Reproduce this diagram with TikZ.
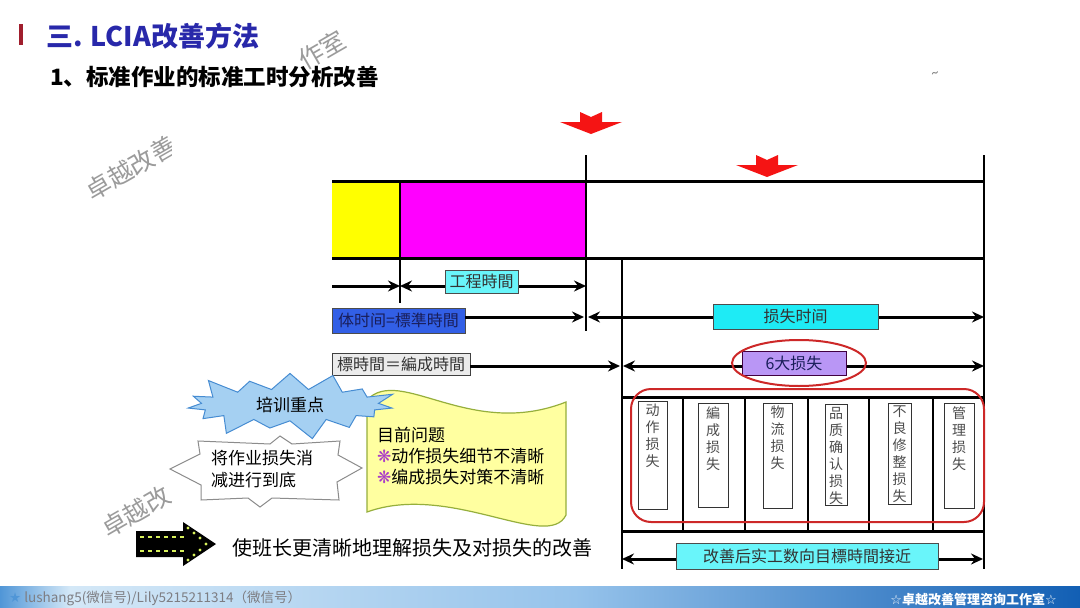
\documentclass[tikz,border=0pt]{standalone}
\usepackage{fontspec}
\setmainfont{Noto Sans CJK SC}
\newfontfamily\symfont{DejaVu Sans}
\usetikzlibrary{arrows.meta,shapes.symbols,shapes.geometric}
\definecolor{titleblue}{RGB}{40,40,170}
\definecolor{barred}{RGB}{160,30,45}
\definecolor{markred}{RGB}{245,20,20}
\definecolor{baryellow}{RGB}{255,255,0}
\definecolor{barmagenta}{RGB}{255,0,255}
\definecolor{lblcyan}{RGB}{30,235,245}
\definecolor{lblcyanlt}{RGB}{105,245,250}
\definecolor{qtblue}{RGB}{50,95,230}
\definecolor{navytext}{RGB}{25,30,90}
\definecolor{lossviolet}{RGB}{185,150,245}
\definecolor{ringred}{RGB}{205,40,40}
\definecolor{starblue}{RGB}{165,208,242}
\definecolor{starline}{RGB}{70,140,210}
\definecolor{flagyellow}{RGB}{255,255,160}
\definecolor{flagline}{RGB}{150,175,60}
\definecolor{bulletpurple}{RGB}{170,60,200}
\definecolor{wmgray}{RGB}{155,155,155}
\definecolor{footgray}{RGB}{125,125,130}
\definecolor{footA}{RGB}{80,150,215}
\definecolor{footB}{RGB}{212,232,247}
\definecolor{footC}{RGB}{150,195,235}
\definecolor{footD}{RGB}{18,95,180}
\definecolor{lampgreen}{RGB}{215,240,90}
\tikzset{
	>={Stealth[length=12pt,width=11pt,inset=4pt]},
	dimline/.style={line width=3pt,black},
	guide/.style={line width=1.3pt,black},
	lbl/.style={draw=black!70,line width=0.8pt,inner sep=0pt,text=black!80,
		font=\fontsize{16}{18}\selectfont},
	losscol/.style={draw=black!80,line width=0.8pt,fill=white,inner sep=0pt,anchor=north},
	coltext/.style={align=center,inner sep=0pt,anchor=north,text=black!70,
		font=\fontsize{14}{17}\selectfont},
	wmark/.style={rotate=30,text=wmgray,inner sep=0pt,font=\fontsize{25}{27}\selectfont},
	redmark/.pic={\fill[markred] (-11,0) -- (0,5) -- (11,0) -- (11,10) -- (31,10)
		-- (0,22) -- (-31,10) -- (-11,10) -- cycle;}
}
\begin{document}
\begin{tikzpicture}[x=1pt,y=-1pt]
\useasboundingbox (0,0) rectangle (1080,608);
\fill[white] (0,0) rectangle (1080,608);

% footer
\shade[left color=footA,right color=footB] (0,586) rectangle (70,608);
\shade[left color=footB,right color=footD,middle color=footC] (70,586) rectangle (1080,608);
\node[anchor=west,inner sep=0pt,text=footgray,font=\fontsize{13.5}{15}\selectfont] (footl) at (9,598)
	{{\symfont\color{footA}★} lushang5(微信号)/Lily5215211314（微信号）};
\node[anchor=east,inner sep=0pt,text=white,font=\bfseries\fontsize{13}{15}\selectfont] (footr) at (1057,599)
	{{\symfont ☆}卓越改善管理咨询工作室{\symfont ☆}};

% title
\fill[barred] (19,24) rectangle (23,45);
\node[anchor=west,inner sep=0pt,text=titleblue,font=\bfseries\fontsize{27}{30}\selectfont] (ttl) at (46,36) {三. LCIA改善方法};
\node[anchor=west,inner sep=0pt,font=\bfseries\fontsize{22.5}{25}\selectfont] (sub) at (50,77) {1、标准作业的标准工时分析改善};

% watermarks
\begin{scope}
\clip (0,100) rectangle (171,240);
\node[wmark] (wm1) at (131,168) {卓越改善};
\end{scope}
\node[wmark] (wm2) at (136,512) {卓越改};
\node[wmark] (wm3) at (322,50) {作室};
\node[inner sep=0pt,text=black!55,rotate=20,font=\fontsize{14}{14}\selectfont] (wm4) at (936,75) {\~{}};

% time bar
\fill[baryellow] (332,181) rectangle (400,258);
\fill[barmagenta] (400,181) rectangle (586,258);
\draw[line width=3pt] (332,181) -- (984,181);
\draw[line width=3pt] (332,258) -- (984,258);
\draw[guide] (400,181) -- (400,303);
\draw[guide] (586,155) -- (586,331);
\draw[guide] (984,155) -- (984,397);
\draw[guide] (622,258) -- (622,397);

% red markers
\pic at (591,112) {redmark};
\pic at (767,155) {redmark};

% row 1
\coordinate (r1a) at (332,286);
\coordinate (r1b) at (400,286);
\coordinate (r1c) at (586,286);
\draw[dimline,->] (r1a) -- (r1b);
\draw[dimline,<->] (r1b) -- (r1c);
\node[lbl,fill=lblcyanlt,minimum width=73pt,minimum height=23pt] (gcsj) at (481.5,281.5) {工程時間};

% row 2
\node[lbl,fill=qtblue,text=navytext,minimum width=133pt,minimum height=25pt] (qt) at (398.5,320.5) {体时间=標準時間};
\coordinate (r2a) at (584,317);
\coordinate (r2b) at (588,317);
\coordinate (r2c) at (984,317);
\draw[dimline,->] (qt.east |- r2a) -- (r2a);
\draw[dimline,<->] (r2b) -- (r2c);
\node[lbl,fill=lblcyan,minimum width=165pt,minimum height=25pt] (sssj) at (795.5,316.5) {损失时间};

% row 3
\node[lbl,fill=black!8,draw=black!75,minimum width=138pt,minimum height=22pt] (bz) at (401,364) {標時間＝編成時間};
\coordinate (r3a) at (620,366);
\coordinate (r3b) at (623,366);
\coordinate (r3c) at (984,366);
\draw[dimline,->] (bz.east |- r3a) -- (r3a);
\draw[dimline,<->] (r3b) -- (r3c);
\node[lbl,fill=lossviolet,draw=violet!50!black,text=navytext,minimum width=104pt,minimum height=24pt] (six) at (794,363) {6大损失};
\node[ellipse,draw=ringred,line width=2pt,minimum width=134pt,minimum height=46pt] (ring) at (799,363) {};

% loss table
\draw[line width=3pt] (622,397) -- (984,397);
\draw[line width=3pt] (622,531) -- (984,531);
\draw[line width=2pt] (622,397) -- (622,531);
\draw[line width=2pt] (984,397) -- (984,531);
\foreach \x in {683,745,808,869,933}
	\draw[line width=1.5pt] (\x,397) -- (\x,531);
\foreach \n/\cx/\cw/\ct/\cb/\txt in {
	1/652.5/29/401/509/{动\\作\\损\\失},
	2/713/30/403/507/{編\\成\\损\\失},
	3/777.5/29/403/508/{物\\流\\损\\失},
	4/836/22/404/505/{品\\质\\确\\认\\损\\失},
	5/899.5/23/403/504/{不\\良\\修\\整\\损\\失},
	6/959/30/403/508/{管\\理\\损\\失}}{
	\node[losscol,minimum width=\cw pt,minimum height={\cb-\ct}] (col\n) at (\cx,\ct) {};
	\node[coltext,yshift=-3pt] (txt\n) at (col\n.north) {\txt};
}
\node[draw=ringred,line width=2pt,rounded corners=20pt,minimum width=353pt,minimum height=133pt] (lossring) at (807.5,455.5) {};

% row 4
\draw[guide] (622,531) -- (622,569);
\draw[guide] (984,531) -- (984,569);
\coordinate (r4a) at (622,559);
\coordinate (r4b) at (983,559);
\draw[dimline,<->] (r4a) -- (r4b);
\node[lbl,fill=lblcyanlt,minimum width=262pt,minimum height=26pt] (mb) at (807,556) {改善后实工数向目標時間接近};

% problem flag
\draw[fill=flagyellow,draw=flagline,line width=1.2pt] (367,400) .. controls (400,365) and (470,440) .. (566,402)
	-- (566,515) .. controls (548,552) and (450,482) .. (367,512) -- cycle;
\node[anchor=north west,align=left,inner sep=0pt,font=\fontsize{17}{21}\selectfont] (wt) at (377,427)
	{目前问题\\{\symfont\color{bulletpurple}❋}动作损失细节不清晰\\{\symfont\color{bulletpurple}❋}编成损失对策不清晰};

% training focus
\node[starburst,draw=starline,fill=starblue,line width=1pt,minimum width=222pt,minimum height=66pt,
	starburst points=15,starburst point height=22pt,font=\fontsize{17}{20}\selectfont] (focus) at (290,405) {培训重点};

% goal box
\draw[fill=white,draw=black!45,line width=1pt] (170,469) -- (200,454) -- (198,441) -- (270,444) -- (280,436)
	-- (292,444) -- (340,441) -- (338,455) -- (362,468) -- (337,482) -- (339,500) -- (272,498)
	-- (260,507) -- (248,498) -- (201,500) -- (201,485) -- cycle;
\node[align=left,inner sep=0pt,font=\fontsize{17}{22}\selectfont] (goal) at (262,469) {将作业损失消\\减进行到底};

% lit arrow
\fill[black] (136,531) -- (183,531) -- (183,522) -- (216,544) -- (183,566) -- (183,557) -- (136,557) -- cycle;
\foreach \x in {140,148,...,180} {
	\fill[lampgreen] (\x,536) rectangle ++(4,2);
	\fill[lampgreen] (\x,550) rectangle ++(4,2);
}
\foreach \p in {(188,528),(194,533),(200,538),(206,544),(200,550),(194,555),(188,560)}
	\fill[lampgreen] \p circle (1.6);
\node[anchor=west,inner sep=0pt,font=\fontsize{20}{22}\selectfont] (msg) at (232,548) {使班长更清晰地理解损失及对损失的改善};

\end{tikzpicture}
\end{document}
